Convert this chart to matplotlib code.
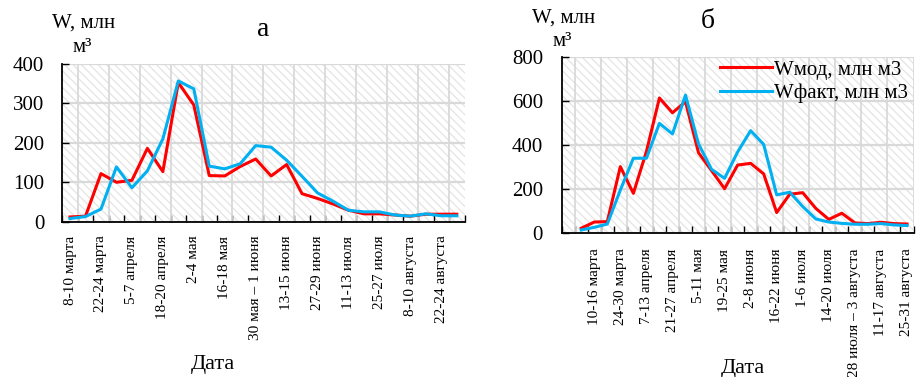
import numpy as np
from matplotlib import pyplot as plt
from matplotlib.patches import Rectangle

plt.rcParams['font.family'] = ['Liberation Serif', 'DejaVu Serif']
plt.rcParams['hatch.linewidth'] = 0.9

# chart "а": 26 weekly periods, label every second one
left_labels = ['8-10 марта', '22-24 марта', '5-7 апреля', '18-20 апреля', '2-4 мая',
               '16-18 мая', '30 мая – 1 июня', '13-15 июня', '27-29 июня', '11-13 июля',
               '25-27 июля', '8-10 августа', '22-24 августа']
left_mod = [12, 14, 122, 100, 105, 186, 127, 353, 296, 117, 116, 140, 159,
            116, 145, 71, 59, 45, 29, 20, 20, 17, 14, 19, 19, 19]
left_fact = [8, 13, 32, 139, 86, 129, 210, 357, 337, 141, 134, 147, 193,
             189, 156, 115, 73, 52, 29, 25, 25, 17, 14, 20, 15, 15]

# chart "б": 27 periods, the first one empty
right_labels = ['10-16 марта', '24-30 марта', '7-13 апреля', '21-27 апреля', '5-11 мая',
                '19-25 мая', '2-8 июня', '16-22 июня', '1-6 июля', '14-20 июля',
                '28 июля – 3 августа', '11-17 августа', '25-31 августа']
right_mod = [23, 51, 53, 302, 181, 370, 613, 546, 596, 365, 284, 202, 309,
             317, 269, 94, 177, 184, 113, 63, 91, 47, 44, 50, 44, 42]
right_fact = [15, 27, 42, 196, 340, 340, 498, 450, 626, 405, 290, 249, 368,
              465, 403, 174, 186, 121, 65, 51, 45, 41, 41, 44, 38, 35]

W, H = 917, 377
fig = plt.figure(figsize=(W / 100, H / 100), dpi=100)


def px(x0, y0, x1, y1):
    return [x0 / W, 1 - y1 / H, (x1 - x0) / W, (y1 - y0) / H]


def setup(ax, ncat, ymax, ystep, tick_pos, tick_labels, ypad, xpad):
    ax.add_patch(Rectangle((0, 0), 1, 1, transform=ax.transAxes, facecolor='white',
                           edgecolor='#e4e4e4', lw=0, hatch='\\\\\\\\', zorder=0))
    ax.set_xlim(-0.5, ncat - 0.5)
    ax.set_ylim(0, ymax)
    ax.set_yticks(np.arange(0, ymax + 1, ystep))
    ax.set_xticks(np.arange(ncat + 1) - 0.5, minor=True)
    ax.set_xticks(tick_pos)
    ax.set_xticklabels(tick_labels, rotation=90, fontsize=11)
    ax.tick_params(axis='x', which='major', length=0, pad=xpad)
    ax.tick_params(axis='x', which='minor', direction='in', length=5, width=1)
    ax.tick_params(axis='y', direction='in', length=5, width=1, labelsize=15, pad=ypad)
    for x in np.arange(1, ncat + 1, 2) - 0.5:
        ax.axvline(x, color='#d9d9d9', lw=1.3, zorder=1)
    ax.yaxis.grid(True, color='#d9d9d9', lw=1.6, zorder=1)
    ax.set_axisbelow(True)
    for s in ['top', 'right']:
        ax.spines[s].set_visible(False)
    for s in ['left', 'bottom']:
        ax.spines[s].set_linewidth(1.3)


ax1 = fig.add_axes(px(62.3, 64, 464.5, 221.7))
x1 = np.arange(len(left_mod))
ax1.plot(x1, left_mod, color='#ff0000', lw=2.2, zorder=3)
ax1.plot(x1, left_fact, color='#00b0f0', lw=2.2, zorder=4)
setup(ax1, 26, 400, 100, np.arange(0, 26, 2), left_labels, 13, 10)

ax2 = fig.add_axes(px(561.7, 56.7, 913.5, 233.3))
x2 = np.arange(1, len(right_mod) + 1)
ax2.plot(x2, right_mod, color='#ff0000', lw=2.2, zorder=3, label='Wмод, млн м3')
ax2.plot(x2, right_fact, color='#00b0f0', lw=2.2, zorder=4, label='Wфакт, млн м3')
setup(ax2, 27, 800, 200, np.arange(2, 27, 2), right_labels, 13.5, 11)
ax2.legend(loc='upper left', bbox_to_anchor=(720 / W, 1 - 60 / H),
           bbox_transform=fig.transFigure, frameon=False, fontsize=15,
           borderpad=0, borderaxespad=0, handlelength=2.5, handletextpad=0.1,
           labelspacing=0.2)

fig.text(52 / W, 1 - 23 / H, 'W, млн', fontsize=15, va='center', ha='left')
fig.text(73 / W, 1 - 47 / H, 'м³', fontsize=15, va='center', ha='left')
fig.text(263 / W, 1 - 30 / H, 'а', fontsize=20, va='center', ha='center')
fig.text(532 / W, 1 - 18 / H, 'W, млн', fontsize=15, va='center', ha='left')
fig.text(553 / W, 1 - 42 / H, 'м³', fontsize=15, va='center', ha='left')
fig.text(708 / W, 1 - 21 / H, 'б', fontsize=20, va='center', ha='center')
fig.text(213 / W, 1 - 365 / H, 'Дата', fontsize=16, va='center', ha='center')
fig.text(743 / W, 1 - 368 / H, 'Дата', fontsize=16, va='center', ha='center')

fig.savefig('out.png', dpi=100)
